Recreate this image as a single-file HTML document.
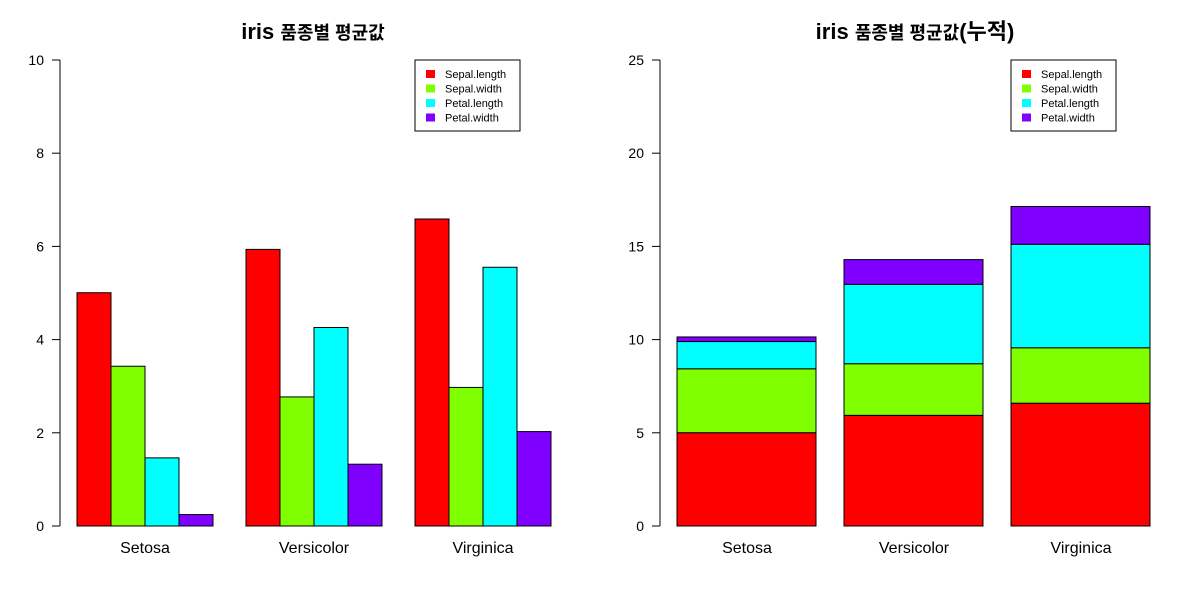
<!DOCTYPE html>
<html><head><meta charset="utf-8"><style>
body{margin:0;background:#fff}
svg text{font-family:"Liberation Sans","Noto Sans CJK KR",sans-serif}
</style></head><body>
<svg id="c" width="1200" height="600" xmlns="http://www.w3.org/2000/svg"></svg>
<script>
const species = ["Setosa","Versicolor","Virginica"];
const seriesNames = ["Sepal.length","Sepal.width","Petal.length","Petal.width"];
const sepalLength = [5.006,5.936,6.588];
const sepalWidth = [3.428,2.770,2.974];
const petalLength = [1.462,4.260,5.552];
const petalWidth = [0.246,1.326,2.026];
const leftTicks = [0,2,4,6,8,10];
const rightTicks = [0,5,10,15,20,25];
const colors = ["#ff0000","#80ff00","#00ffff","#8000ff"];
const series = [sepalLength,sepalWidth,petalLength,petalWidth];
const svg = document.getElementById('c');
const NS = "http://www.w3.org/2000/svg";
function mk(tag, attrs, parent){const e=document.createElementNS(NS,tag);for(const k in attrs)e.setAttribute(k,attrs[k]);(parent||svg).appendChild(e);return e;}
function txt(x,y,s,attrs){const e=mk('text',Object.assign({x:x,y:y},attrs||{}));e.textContent=s;return e;}

function axis(x0, yScale, ticks, name){
  const g=mk('g',{});
  
  
  mk('line',{x1:x0,x2:x0,y1:yScale(ticks[0]),y2:yScale(ticks[ticks.length-1]),stroke:'#000'},g);
  ticks.forEach(t=>{
    mk('line',{x1:x0-8,x2:x0,y1:yScale(t),y2:yScale(t),stroke:'#000'},g);
    const l=txt(x0-16,yScale(t)+5,String(t),{'font-size':14,'text-anchor':'end'});
    g.appendChild(l);
  });
}
function legend(x,y,name){
  const g=mk('g',{});
  
  
  mk('rect',{x:x,y:y,width:105,height:71,fill:'#fff',stroke:'#000'},g);
  seriesNames.forEach((s,i)=>{
    mk('rect',{x:x+11,y:y+10+i*14.5,width:9,height:8,fill:colors[i]},g);
    const t=txt(x+30,y+18+i*14.5,s,{'font-size':11});g.appendChild(t);
  });
}

const yL = v => 526 - v*46.6;
axis(60, yL, leftTicks, 'left-y-axis');
const leftStarts=[77,246,415];
species.forEach((sp,j)=>{
  series.forEach((arr,i)=>{
    const r=mk('rect',{x:leftStarts[j]+i*34,y:yL(arr[j]),width:34,height:yL(0)-yL(arr[j]),fill:colors[i],stroke:'#000'});
    
    
  });
  const l=txt(leftStarts[j]+68,553,sp,{'font-size':16,'text-anchor':'middle'});
  
  
});
const t1=txt(313,39,'',{'font-size':22,'font-weight':'bold','text-anchor':'middle'});
t1.innerHTML='iris <tspan font-size="18">품종별 평균값</tspan>';


legend(415,60,'left-legend');

const yR = v => 526 - v*18.64;
axis(660, yR, rightTicks, 'right-y-axis');
const rightStarts=[677,844,1011];
species.forEach((sp,j)=>{
  let acc=0;
  series.forEach((arr,i)=>{
    const r=mk('rect',{x:rightStarts[j],y:yR(acc+arr[j]),width:139,height:yR(acc)-yR(acc+arr[j]),fill:colors[i],stroke:'#000'});
    
    
    acc+=arr[j];
  });
  const l=txt(rightStarts[j]+70,553,sp,{'font-size':16,'text-anchor':'middle'});
  
  
});
const t2=txt(915,39,'',{'font-size':22,'font-weight':'bold','text-anchor':'middle'});
t2.innerHTML='iris <tspan font-size="18">품종별 평균값</tspan><tspan>(누적)</tspan>';


legend(1011,60,'right-legend');
</script>
</body></html>
